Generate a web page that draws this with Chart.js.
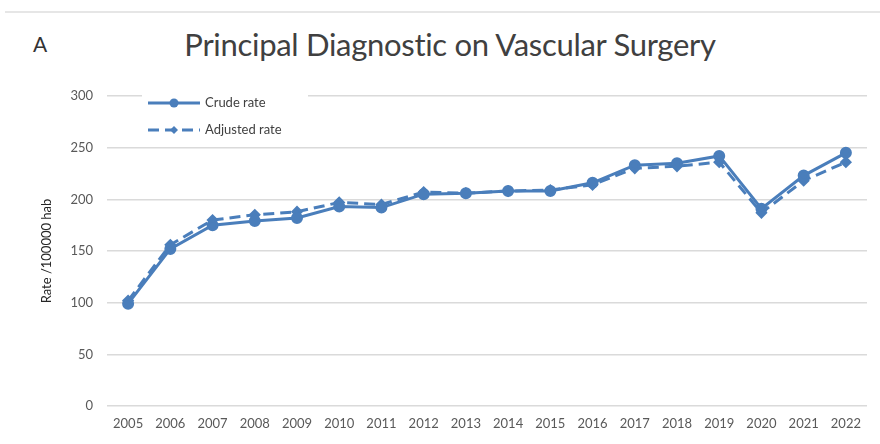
<!DOCTYPE html>
<html>
<head>
<meta charset="utf-8">
<script src="https://cdn.jsdelivr.net/npm/chart.js@4.4.1/dist/chart.umd.min.js"></script>
<style>
    body { margin: 0; background: #fff; font-family: Lato, sans-serif; }
    #wrap { position: relative; width: 880px; height: 444px; overflow: hidden; }
    #topline { position: absolute; left: 5px; top: 11px; width: 875px; height: 2px; background: #e6e6e6; }
    #panel { position: absolute; left: 33px; top: 31px; font-size: 21px; color: #333; }
    #title { position: absolute; left: 0; width: 900px; top: 25px; text-align: center; font-size: 31px; color: #404040; letter-spacing: -0.3px; }
    canvas { position: absolute; left: 0; top: 0; }
</style>
</head>
<body>
<div id="wrap">
    <div id="topline"></div>
    <div id="panel">A</div>
    <div id="title">Principal Diagnostic on Vascular Surgery</div>
    <canvas id="my-chart" width="880" height="444"></canvas>
</div>
<script>
const years = ['2005', '2006', '2007', '2008', '2009', '2010', '2011', '2012', '2013',
    '2014', '2015', '2016', '2017', '2018', '2019', '2020', '2021', '2022'];
const crudeRate = [99, 152, 175, 179, 182, 193, 192, 205, 206, 208, 208, 216, 233, 235, 242, 191, 223, 245];
const adjustedRate = [102, 156, 180, 185, 188, 197, 195, 207, 206, 208, 209, 214, 230, 232, 236, 187, 218, 236];
const yTicks = [0, 50, 100, 150, 200, 250, 300];

const blue = '#4a7ebb';
const chartCanvas = document.getElementById('my-chart');

// legend sits inside the plot, top left, like the original
const innerLegend = {
    id: 'innerLegend',
    afterDraw(chart) {
        const ctx = chart.ctx;
        const x0 = 148, rows = [103, 130];
        ctx.save();
        ctx.fillStyle = '#fff';
        ctx.fillRect(142, 90, 166, 50);
        chart.data.datasets.forEach((ds, i) => {
            const y = rows[i];
            ctx.strokeStyle = blue;
            ctx.lineWidth = 3;
            ctx.setLineDash(ds.borderDash || []);
            ctx.beginPath();
            ctx.moveTo(x0, y);
            ctx.lineTo(x0 + 52, y);
            ctx.stroke();
            ctx.setLineDash([]);
            ctx.fillStyle = blue;
            ctx.beginPath();
            if (ds.pointStyle === 'rectRot') {
                ctx.moveTo(x0 + 26, y - 4);
                ctx.lineTo(x0 + 30, y);
                ctx.lineTo(x0 + 26, y + 4);
                ctx.lineTo(x0 + 22, y);
            } else {
                ctx.arc(x0 + 26, y, 4.5, 0, Math.PI * 2);
            }
            ctx.fill();
            ctx.fillStyle = '#404040';
            ctx.font = '13px Lato';
            ctx.textBaseline = 'middle';
            ctx.fillText(ds.label, x0 + 57, y);
        });
        ctx.restore();
    }
};

new Chart(chartCanvas.getContext('2d'), {
    type: 'line',
    data: {
        labels: years,
        datasets: [
            {
                label: 'Crude rate',
                data: crudeRate,
                borderColor: blue,
                backgroundColor: blue,
                borderWidth: 3,
                pointStyle: 'circle',
                pointRadius: 4.5,
                fill: false,
                tension: 0
            },
            {
                label: 'Adjusted rate',
                data: adjustedRate,
                borderColor: blue,
                backgroundColor: blue,
                borderWidth: 3,
                borderDash: [11, 6],
                pointStyle: 'rectRot',
                pointRadius: 4,
                fill: false,
                tension: 0
            }
        ]
    },
    options: {
        responsive: false,
        animation: false,
        layout: { padding: { left: 39, right: 13, top: 96, bottom: 8 } },
        scales: {
            x: {
                offset: true,
                grid: { display: false, drawTicks: false },
                border: { display: false },
                ticks: {
                    color: '#595959',
                    font: { family: 'Lato', size: 13 },
                    padding: 10,
                    maxRotation: 0,
                    autoSkip: false
                },
                afterFit(scale) { scale.height = 30; }
            },
            y: {
                min: 0,
                max: 300,
                afterBuildTicks(scale) { scale.ticks = yTicks.map(v => ({ value: v })); },
                grid: { color: '#dadada', lineWidth: 1.5, drawTicks: false },
                border: { display: false },
                ticks: {
                    color: '#595959',
                    font: { family: 'Lato', size: 13 },
                    padding: 14
                },
                title: {
                    display: true,
                    text: 'Rate /100000 hab',
                    color: '#262626',
                    font: { family: 'Lato', size: 13 },
                    padding: 0
                },
                afterFit(scale) { scale.width = 68; }
            }
        },
        plugins: {
            legend: { display: false },
            tooltip: { enabled: false }
        }
    },
    plugins: [innerLegend]
});
</script>
</body>
</html>
